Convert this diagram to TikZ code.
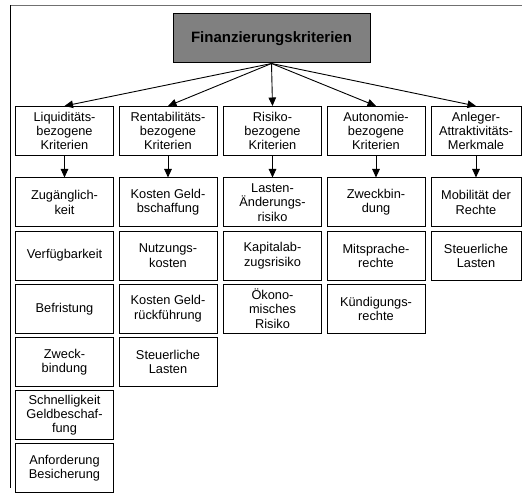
\documentclass[tikz,border=0pt]{standalone}
\usepackage{fontspec}
\setmainfont{Liberation Sans}
\usetikzlibrary{arrows.meta}
\definecolor{titlegray}{HTML}{808080}
\definecolor{framegray}{HTML}{707070}
\begin{document}
\begin{tikzpicture}[x=1pt,y=-1pt,
  box/.style={draw=black,line width=1pt,rectangle,inner sep=0pt,align=center,
    minimum height=49pt,minimum width=98pt,font=\fontsize{12.8}{14.2}\selectfont},
  lastbox/.style={box,minimum width=90pt},
  titlebox/.style={draw=black,line width=1pt,fill=titlegray,inner sep=0pt,
    minimum width=197pt,minimum height=49pt,font=\fontsize{15}{17}\selectfont\bfseries},
  conn/.style={line width=0.9pt,-{Triangle[length=8.5pt,width=7.5pt]}}]
\useasboundingbox (0,0) rectangle (522,497);
\draw[framegray,line width=1.3pt] (10.5,5.5) -- (522,5.5);
\draw[black,line width=0.8pt] (10.5,5.5) -- (10.5,488);

\node[titlebox] (top) at (271.5,38.5) {Finanzierungskriterien};

% level 1
\node[box] (k1) at (64.5,131) {Liquiditäts-\\bezogene\\Kriterien};
\node[box] (k2) at (168,131) {Rentabilitäts-\\bezogene\\Kriterien};
\node[box] (k3) at (272.5,131) {Risiko-\\bezogene\\Kriterien};
\node[box] (k4) at (376,131) {Autonomie-\\bezogene\\Kriterien};
\node[lastbox] (k5) at (476,131) {Anleger-\\Attraktivitäts-\\Merkmale};

% column 1
\node[box] (a1) at (64.5,202.5) {Zugänglich-\\keit};
\node[box] (a2) at (64.5,255.6) {Verfügbarkeit};
\node[box] (a3) at (64.5,308.7) {Befristung};
\node[box] (a4) at (64.5,361.8) {Zweck-\\bindung};
\node[box] (a5) at (64.5,414.9) {Schnelligkeit\\Geldbeschaf-\\fung};
\node[box] (a6) at (64.5,468) {Anforderung\\Besicherung};

% column 2
\node[box] (b1) at (168,202.5) {Kosten Geld-\\bschaffung};
\node[box] (b2) at (168,255.6) {Nutzungs-\\kosten};
\node[box] (b3) at (168,308.7) {Kosten Geld-\\rückführung};
\node[box] (b4) at (168,361.8) {Steuerliche\\Lasten};

% column 3
\node[box] (c1) at (272.5,202.5) {Lasten-\\Änderungs-\\risiko};
\node[box] (c2) at (272.5,255.6) {Kapitalab-\\zugsrisiko};
\node[box] (c3) at (272.5,308.7) {Ökono-\\misches\\Risiko};

% column 4
\node[box] (d1) at (376,202.5) {Zweckbin-\\dung};
\node[box] (d2) at (376,255.6) {Mitsprache-\\rechte};
\node[box] (d3) at (376,308.7) {Kündigungs-\\rechte};

% column 5
\node[lastbox] (e1) at (476,202.5) {Mobilität der\\Rechte};
\node[lastbox] (e2) at (476,255.6) {Steuerliche\\Lasten};

% connectors
\foreach \k in {k1,k2,k3,k4,k5}
  \draw[conn] (top.south) -- (\k.north);
\draw[conn] (k1.south) -- (a1.north);
\draw[conn] (k2.south) -- (b1.north);
\draw[conn] (k3.south) -- (c1.north);
\draw[conn] (k4.south) -- (d1.north);
\draw[conn] (k5.south) -- (e1.north);
\end{tikzpicture}
\end{document}
